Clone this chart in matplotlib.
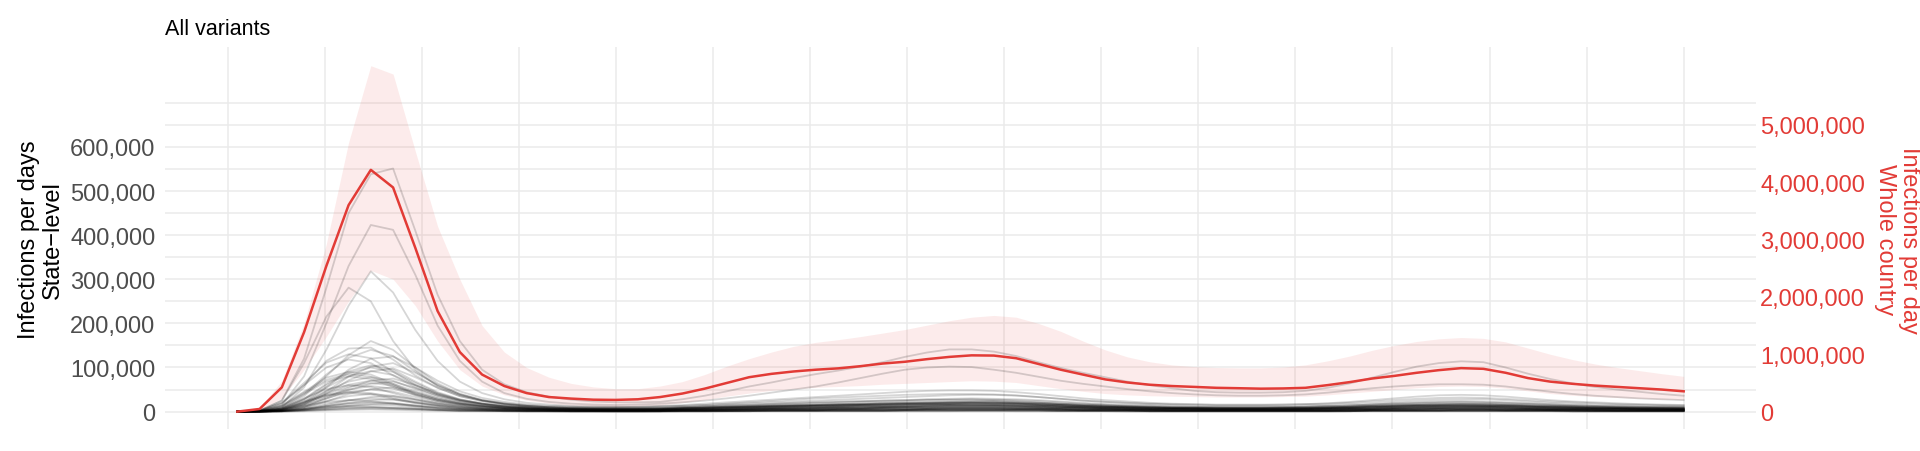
import numpy as np
import matplotlib
matplotlib.use("Agg")
import matplotlib.pyplot as plt
from matplotlib.ticker import FixedLocator, FuncFormatter, NullFormatter

plt.rcParams["font.family"] = ["Liberation Sans", "DejaVu Sans"]

# ---------------- data (weekly points) ----------------
week = list(range(66))

# whole country, infections per day (thousands)
country_k = [0, 46, 423, 1385, 2538, 3600, 4215, 3908, 2854, 1754,
             1038, 646, 446, 323, 254, 227, 208, 204, 215, 254,
             315, 400, 500, 600, 658, 700, 731, 754, 792, 838,
             869, 915, 954, 981, 977, 931, 831, 731, 646, 562,
             508, 469, 446, 431, 415, 408, 400, 404, 415, 462,
             515, 577, 623, 677, 723, 758, 746, 677, 585, 523,
             485, 454, 431, 408, 385, 354]
country_hi_k = [0, 62, 538, 1538, 2923, 4692, 6031, 5885, 4538, 3231,
                2308, 1500, 1038, 769, 600, 492, 431, 400, 400, 446,
                523, 646, 792, 923, 1038, 1138, 1208, 1254, 1308, 1369,
                1431, 1508, 1585, 1646, 1677, 1646, 1538, 1400, 1231, 1077,
                954, 869, 815, 785, 769, 762, 762, 777, 815, 885,
                969, 1069, 1154, 1223, 1269, 1292, 1277, 1215, 1108, 1000,
                908, 831, 769, 715, 662, 615]
country_lo_k = [0, 23, 231, 731, 1308, 1923, 2462, 2308, 1846, 1231,
                731, 446, 292, 200, 146, 115, 100, 92, 100, 115,
                154, 208, 269, 323, 369, 400, 423, 438, 454, 477,
                492, 508, 523, 538, 531, 508, 454, 400, 354, 315,
                292, 277, 269, 262, 254, 254, 254, 262, 269, 292,
                323, 354, 385, 415, 438, 446, 438, 408, 362, 315,
                285, 262, 246, 231, 215, 208]

# state level, infections per day (thousands)
states_k = [
    [0,2,25,120,280,450,538,551,410,265,160,95,62,44,34,27,23,21,21,22,
     28,36,46,57,66,76,85,93,102,112,124,134,141,141,136,126,112,99,88,78,68,60,53,47,44,43,43,44,47,54,64,77,90,102,110,114,112,100,86,74,64,56,50,45,40,36],
    [0,1,15,80,200,330,423,412,310,195,115,68,42,29,22,18,16,15,16,18,
     21,25,30,36,43,50,57,66,76,86,95,100,102,101,95,88,79,70,63,57,51,46,42,39,37,36,36,37,39,43,48,53,57,60,62,62,61,57,51,45,40,36,33,30,28,26],
    [0,1,10,55,140,240,318,270,185,115,68,42,28,20,16,13,12,11,11,12,
     13,15,17,19,21,23,25,27,29,31,33,35,37,38,38,36,33,29,25,22,20,18,17,16,15,15,15,16,17,19,22,26,30,34,37,38,37,34,30,26,23,21,19,17,16,15],
    [0,2,25,110,215,281,250,160,95,58,38,26,19,15,12,11,10,10,11,13,
     15,18,21,24,27,30,33,36,39,42,45,47,48,48,47,44,40,35,30,26,23,20,18,17,16,16,16,16,17,18,20,23,26,29,31,32,31,29,26,23,21,19,17,16,15,14],
    [0,1,8,35,80,128,160,140,100,64,40,26,18,13,10,9,8,8,8,9,
     10,12,14,16,18,20,22,23,24,25,26,27,27,27,26,24,21,18,16,14,12,11,10,10,9,9,9,10,11,12,14,16,19,21,23,24,23,21,19,17,15,13,12,11,10,10],
    [0,2,18,60,115,143,145,118,82,54,35,24,17,12,10,8,7,7,7,8,
     9,10,11,12,13,14,15,16,17,18,19,19,20,20,19,18,16,14,12,11,10,9,8,8,8,8,8,8,9,10,11,13,15,16,17,18,17,16,14,13,12,11,10,9,8,8],
    [0,0,4,20,55,95,120,125,100,70,46,31,22,16,13,11,10,10,10,11,
     13,15,18,21,24,27,30,32,34,36,38,39,40,40,39,37,33,29,25,22,19,17,15,14,13,13,13,13,14,15,17,19,22,25,27,28,28,26,23,20,18,16,15,14,13,12],
    [0,2,20,60,100,118,110,82,55,36,24,17,12,9,7,6,6,6,6,7,
     8,9,10,11,12,13,14,14,15,15,16,16,16,16,15,14,13,11,10,9,8,7,7,7,6,6,6,7,7,8,9,10,11,12,13,13,13,12,11,10,9,8,8,7,7,6],
    [0,1,7,29,63,91,105,95,68,44,28,19,13,10,8,7,6,6,6,6,
     7,8,10,11,12,13,14,15,16,17,18,19,20,20,19,18,17,15,13,11,10,9,8,8,7,7,7,7,7,8,9,10,12,13,14,14,14,13,12,10,9,8,8,7,7,6],
    [0,0,3,15,41,71,91,98,78,54,35,24,16,12,9,7,6,6,6,6,
     7,8,9,10,11,12,13,14,15,16,17,18,19,20,20,19,17,15,13,11,10,9,8,8,7,7,7,8,8,9,11,12,13,14,14,14,13,12,11,10,9,8,8,7,7,7],
    [0,1,6,26,55,80,92,83,60,39,25,17,11,8,6,6,5,5,5,5,
     8,9,10,12,13,14,15,17,18,19,20,21,22,23,23,21,20,17,15,13,12,10,9,9,8,8,8,8,9,10,11,12,14,15,16,17,16,15,14,12,11,10,9,9,8,8],
    [0,2,13,43,72,85,79,60,39,26,17,12,9,7,6,5,4,4,4,5,
     5,6,7,8,9,9,10,11,12,12,13,14,15,15,15,14,13,11,10,9,8,7,6,6,5,5,5,5,6,6,7,8,9,10,11,11,11,10,9,8,7,7,6,6,5,5],
    [0,2,12,40,68,80,74,56,37,24,16,11,8,6,5,4,4,4,4,4,
     6,7,8,9,10,11,12,13,14,15,16,17,17,18,18,17,15,14,12,10,9,8,7,7,6,6,6,6,7,8,8,10,11,12,13,13,13,12,11,10,9,8,7,7,6,6],
    [0,0,2,11,32,54,70,75,60,41,27,18,12,9,7,6,5,5,5,5,
     6,7,9,10,11,12,13,14,15,16,17,17,18,19,19,18,16,14,12,11,10,9,8,7,7,7,7,7,7,8,9,10,11,13,13,14,13,13,11,10,9,8,8,7,7,6],
    [0,1,5,20,42,61,70,63,46,29,19,13,8,6,5,4,4,4,4,4,
     5,5,6,7,8,9,9,10,11,11,12,13,14,14,14,13,12,11,9,8,7,6,6,5,5,5,5,5,5,6,7,7,8,9,10,10,10,9,8,7,7,6,6,5,5,5],
    [0,1,5,18,39,57,65,59,42,27,18,12,8,6,5,4,4,3,3,4,
     7,8,9,10,11,12,13,14,15,16,17,18,19,20,20,19,17,15,13,11,10,9,8,8,7,7,7,7,8,8,9,11,12,13,14,14,14,13,12,11,10,9,8,8,7,7],
    [0,1,9,30,51,60,56,42,28,18,12,8,6,5,4,3,3,3,3,3,
     4,5,5,6,7,7,8,9,9,10,10,11,12,12,12,11,10,9,8,7,6,5,5,5,4,4,4,4,5,5,6,6,7,8,8,9,9,8,7,6,6,5,5,5,4,4],
    [0,0,2,8,23,40,51,55,44,30,20,13,9,7,5,4,4,3,3,4,
     5,5,6,7,8,9,9,10,11,11,12,13,14,14,14,13,12,11,9,8,7,6,6,5,5,5,5,5,5,6,7,7,8,9,10,10,10,9,8,7,7,6,6,5,5,5],
    [0,1,4,14,30,44,50,45,33,21,14,9,6,5,4,3,3,3,3,3,
     4,4,5,6,6,7,7,8,8,9,10,10,11,11,11,10,9,8,7,6,6,5,5,4,4,4,4,4,4,5,5,6,7,7,8,8,8,7,6,6,5,5,5,4,4,4],
    [0,1,7,23,38,45,42,32,21,14,9,6,5,4,3,3,2,2,2,3,
     4,4,5,6,6,7,7,8,8,9,10,10,11,11,11,10,9,8,7,6,6,5,5,4,4,4,4,4,4,5,5,6,7,7,8,8,8,7,6,6,5,5,5,4,4,4],
    [0,0,3,11,24,35,40,36,26,17,11,7,5,4,3,2,2,2,2,2,
     3,3,4,4,5,5,5,6,6,7,7,7,8,8,8,7,7,6,5,5,4,4,3,3,3,3,3,3,3,3,4,4,5,5,6,6,6,5,5,4,4,4,3,3,3,3],
    [0,0,1,5,15,25,33,35,28,19,13,8,6,4,3,3,2,2,2,2,
     3,3,4,4,5,5,5,6,6,7,7,7,8,8,8,7,7,6,5,5,4,4,3,3,3,3,3,3,3,3,4,4,5,5,6,6,6,5,5,4,4,4,3,3,3,3],
    [0,0,2,8,18,26,30,27,20,13,8,5,4,3,2,2,2,2,2,2,
     3,3,4,4,5,5,5,6,6,7,7,7,8,8,8,7,7,6,5,5,4,4,3,3,3,3,3,3,3,3,4,4,5,5,6,6,6,5,5,4,4,4,3,3,3,3],
    [0,1,4,13,22,26,24,18,12,8,5,4,3,2,2,1,1,1,1,1,
     2,2,2,3,3,3,3,4,4,4,4,5,5,5,5,5,5,4,3,3,3,2,2,2,2,2,2,2,2,2,2,3,3,3,3,4,4,3,3,3,3,2,2,2,2,2],
    [0,0,2,6,13,19,22,20,14,9,6,4,3,2,2,1,1,1,1,1,
     2,2,2,3,3,3,3,4,4,4,4,5,5,5,5,5,5,4,3,3,3,2,2,2,2,2,2,2,2,2,2,3,3,3,3,4,4,3,3,3,3,2,2,2,2,2],
    [0,0,1,3,8,13,17,18,14,10,6,4,3,2,2,1,1,1,1,1,
     2,2,2,3,3,3,3,4,4,4,4,5,5,5,5,5,5,4,3,3,3,2,2,2,2,2,2,2,2,2,2,3,3,3,3,4,4,3,3,3,3,2,2,2,2,2],
    [0,0,1,4,9,13,15,14,10,6,4,3,2,1,1,1,1,1,1,1,
     1,1,1,1,2,2,2,2,2,2,3,3,3,3,3,3,3,2,2,2,2,1,1,1,1,1,1,1,1,1,1,2,2,2,2,2,2,2,2,2,1,1,1,1,1,1],
    [0,0,2,6,10,12,11,8,6,4,2,2,1,1,1,1,1,1,1,1,
     1,1,1,1,2,2,2,2,2,2,3,3,3,3,3,3,3,2,2,2,2,1,1,1,1,1,1,1,1,1,1,2,2,2,2,2,2,2,2,2,1,1,1,1,1,1],
    [0,0,1,3,5,8,9,8,6,4,2,2,1,1,1,1,1,0,0,1,
     1,1,1,1,2,2,2,2,2,2,3,3,3,3,3,3,3,2,2,2,2,1,1,1,1,1,1,1,1,1,1,2,2,2,2,2,2,2,2,2,1,1,1,1,1,1],
    [0,0,0,2,4,6,7,6,5,3,2,1,1,1,1,0,0,0,0,0,
     1,1,1,1,1,1,1,1,1,1,1,1,1,2,2,1,1,1,1,1,1,1,1,1,1,1,1,1,1,1,1,1,1,1,1,1,1,1,1,1,1,1,1,1,1,1],
    [0,0,0,1,3,4,5,4,3,2,1,1,1,0,0,0,0,0,0,0,
     0,0,1,1,1,1,1,1,1,1,1,1,1,1,1,1,1,1,1,1,0,0,0,0,0,0,0,0,0,0,1,1,1,1,1,1,1,1,1,1,0,0,0,0,0,0],
    [0,1,10,39,84,122,140,126,91,59,38,25,17,13,10,8,8,7,7,8,
     10,12,14,15,17,19,20,22,23,25,26,28,29,30,29,28,26,23,20,17,15,14,12,11,11,11,11,11,11,13,14,16,18,20,21,22,21,20,18,16,14,13,12,11,11,10],
    [0,3,20,65,111,130,121,91,60,39,26,18,13,10,8,7,7,7,7,7,
     7,9,10,11,13,14,15,16,17,18,19,20,21,22,22,20,19,17,14,13,11,10,9,8,8,8,8,8,8,9,10,12,13,15,15,16,16,15,13,12,11,10,9,8,8,7],
    [0,0,3,17,46,79,102,110,88,61,40,26,18,13,10,8,7,7,7,7,
     10,11,13,14,16,17,19,20,22,23,24,26,27,28,27,26,24,21,18,16,14,13,11,11,10,10,10,10,11,12,13,15,17,18,20,20,20,18,17,15,13,12,11,11,10,10],
    [0,1,7,28,60,87,100,90,65,42,27,18,12,9,7,6,6,5,5,6,
     5,6,7,8,9,9,10,11,12,12,13,14,15,15,15,14,13,11,10,9,8,7,6,6,5,5,5,5,6,6,7,8,9,10,11,11,11,10,9,8,7,7,6,6,5,5],
    [0,2,14,45,77,90,84,63,41,27,18,13,9,7,6,5,5,5,5,5,
     8,9,11,12,14,15,16,17,18,20,21,22,23,24,24,22,20,18,16,14,12,11,10,9,9,8,8,9,9,10,11,13,14,16,17,17,17,16,14,13,12,11,10,9,9,8],
    [0,1,5,22,47,68,78,70,51,33,21,14,9,7,5,5,4,4,4,4,
     5,6,7,8,9,10,11,12,12,13,14,15,16,16,16,15,14,12,10,9,8,7,7,6,6,6,6,6,6,7,8,8,10,11,11,12,11,11,9,8,8,7,7,6,6,5],
    [0,0,2,10,29,49,63,68,54,37,24,16,11,8,6,5,4,4,4,4,
     4,5,5,6,7,7,8,9,9,10,10,11,12,12,12,11,10,9,8,7,6,5,5,5,4,4,4,4,5,5,6,6,7,8,8,9,9,8,7,6,6,5,5,5,4,4],
    [0,1,4,16,35,50,58,52,38,24,16,10,7,5,4,3,3,3,3,3,
     3,4,5,5,6,6,7,7,8,8,9,9,10,10,10,9,9,8,7,6,5,5,4,4,4,4,4,4,4,4,5,5,6,7,7,7,7,7,6,5,5,4,4,4,4,3],
    [0,1,6,21,36,42,39,29,19,13,8,6,4,3,3,2,2,2,2,2,
     3,3,4,4,5,5,5,6,6,7,7,7,8,8,8,7,7,6,5,5,4,4,3,3,3,3,3,3,3,3,4,4,5,5,6,6,6,5,5,4,4,4,3,3,3,3],
    [0,0,1,4,12,20,26,28,22,15,10,7,4,3,3,2,2,2,2,2,
     2,2,3,3,3,4,4,4,5,5,5,6,6,6,6,6,5,5,4,3,3,3,2,2,2,2,2,2,2,2,3,3,3,4,4,4,4,4,4,3,3,3,2,2,2,2],
    [0,0,1,6,12,17,20,18,13,8,5,4,2,2,1,1,1,1,1,1,
     2,2,2,3,3,3,3,4,4,4,4,5,5,5,5,5,5,4,3,3,3,2,2,2,2,2,2,2,2,2,2,3,3,3,3,4,4,3,3,3,3,2,2,2,2,2],
    [0,0,1,3,6,9,10,9,7,4,3,2,1,1,1,1,1,1,1,1,
     1,1,1,1,2,2,2,2,2,2,3,3,3,3,3,3,3,2,2,2,2,1,1,1,1,1,1,1,1,1,1,2,2,2,2,2,2,2,2,2,1,1,1,1,1,1],
]

left_ticks_k = [0, 100, 200, 300, 400, 500, 600]
right_ticks_k = [0, 1000, 2000, 3000, 4000, 5000]

title = "All variants"
left_title = "Infections per days\nState\u2212level"
right_title = "Infections per day\nWhole country"

# ---------------- style ----------------
SEC = 0.13          # state-axis units per whole-country unit (secondary axis)
RED = "#E23B36"
GRID = "#EBEBEB"

W, H = 1920, 452
fig = plt.figure(figsize=(W / 100, H / 100), dpi=100)
L, R, T, B = 165, 1756, 48, 430
ax = fig.add_axes([L / W, (H - B) / H, (R - L) / W, (B - T) / H])

wk = np.array(week)
ax.fill_between(wk, np.array(country_lo_k) * SEC, np.array(country_hi_k) * SEC,
                color="#E8413C", alpha=0.10, lw=0, zorder=1)
for s in states_k:
    ax.plot(wk[:len(s)], s, color="black", alpha=0.16, lw=1.3, zorder=2,
            solid_joinstyle="round")
ax.plot(wk, np.array(country_k) * SEC, color=RED, lw=1.8, zorder=3)

ax.set_xlim(-3.25, 68.25)
ax.set_ylim(-39.4, 826.4)

# grid
ax.set_xticks(np.linspace(-0.436, 65, 16))
ax.xaxis.set_major_formatter(NullFormatter())
ax.set_yticks(left_ticks_k)
ax.yaxis.set_minor_locator(FixedLocator([50, 150, 250, 350, 450, 550, 650, 700]))
ax.yaxis.set_major_formatter(FuncFormatter(lambda v, p: f"{int(round(v * 1000)):,}"))
ax.grid(True, which="both", color=GRID, lw=1.1, zorder=0)
ax.set_axisbelow(True)
ax.tick_params(axis="both", which="both", length=0)
ax.tick_params(axis="y", labelsize=17, labelcolor="#4D4D4D", pad=7)
for sp in ax.spines.values():
    sp.set_visible(False)

sec = ax.secondary_yaxis("right", functions=(lambda v: v / SEC, lambda v: v * SEC))
sec.set_yticks(right_ticks_k)
sec.yaxis.set_major_formatter(FuncFormatter(lambda v, p: f"{int(round(v * 1000)):,}"))
sec.tick_params(axis="y", length=0, labelsize=17, labelcolor=RED, pad=3)
for sp in sec.spines.values():
    sp.set_visible(False)

fig.text(165 / W, 1 - 35 / H, title, fontsize=15.5, ha="left", va="baseline", color="black")
fig.text(41 / W, 1 - 240 / H, left_title, rotation=90, ha="center", va="center",
         multialignment="center", fontsize=17, color="black", linespacing=1.1)
fig.text(1897 / W, 1 - 240 / H, right_title, rotation=270, ha="center", va="center",
         multialignment="center", fontsize=17, color=RED, linespacing=1.1)

fig.savefig("out.png", dpi=100)
